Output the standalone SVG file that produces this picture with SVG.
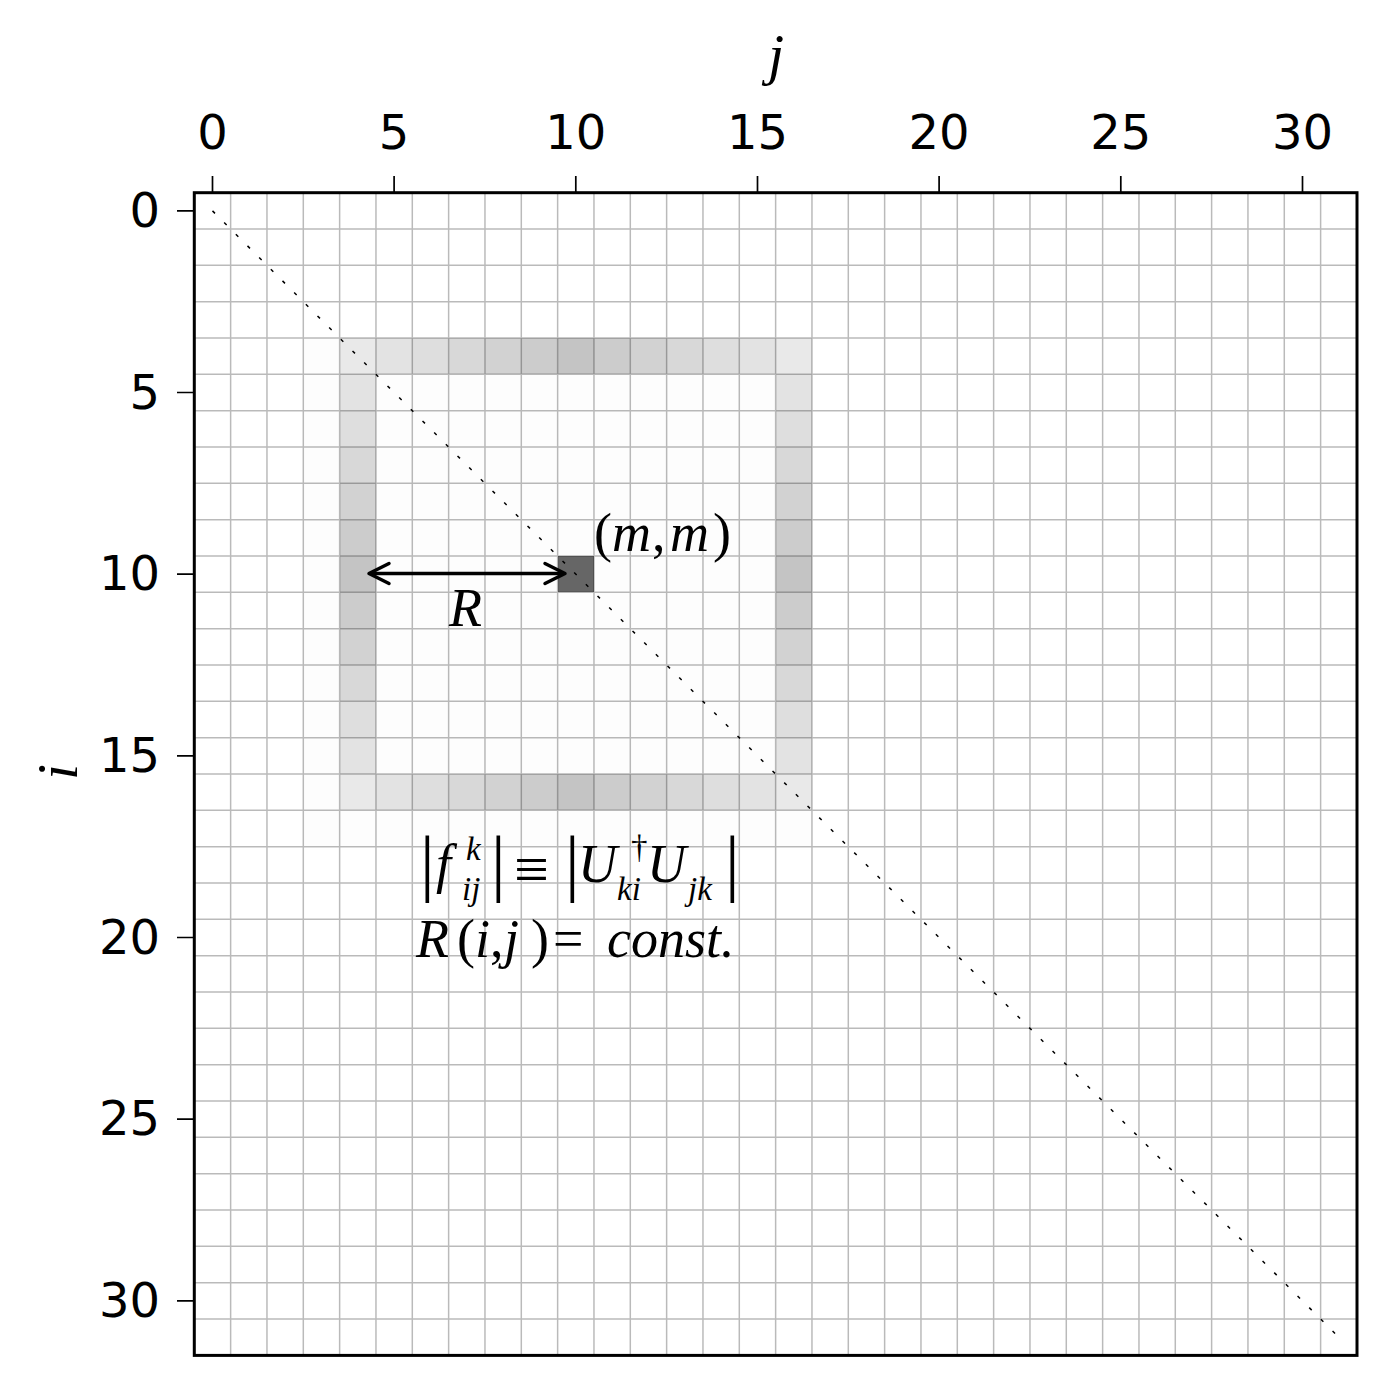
<svg xmlns="http://www.w3.org/2000/svg" width="1387" height="1385" viewBox="0 0 1387 1385">
<style>
.tk{font-family:"DejaVu Sans",sans-serif;font-size:48px;fill:#000}
.tt{text-anchor:middle}
.tl{text-anchor:end}
.mt{font-family:"Liberation Serif","DejaVu Serif",serif;font-size:54px;fill:#000}
.i{font-style:italic}
.s{font-size:33px}
.bar{font-size:73px;font-style:normal}
</style>
<rect width="1387" height="1385" fill="#fff"/>
<g id="matrix" transform="translate(194.3,192.7) scale(36.333)" shape-rendering="crispEdges">
<rect x="3" y="4" width="14" height="14" fill="#fdfdfd"/>
<g id="ring-top">
<rect x="4" y="4" width="1" height="1" fill="#e9e9e9"/><rect x="5" y="4" width="1" height="1" fill="#e3e3e3"/><rect x="6" y="4" width="1" height="1" fill="#dedede"/><rect x="7" y="4" width="1" height="1" fill="#d8d8d8"/><rect x="8" y="4" width="1" height="1" fill="#d2d2d2"/><rect x="9" y="4" width="1" height="1" fill="#cccccc"/><rect x="10" y="4" width="1" height="1" fill="#c4c4c4"/><rect x="11" y="4" width="1" height="1" fill="#cccccc"/><rect x="12" y="4" width="1" height="1" fill="#d2d2d2"/><rect x="13" y="4" width="1" height="1" fill="#d8d8d8"/><rect x="14" y="4" width="1" height="1" fill="#dedede"/><rect x="15" y="4" width="1" height="1" fill="#e3e3e3"/><rect x="16" y="4" width="1" height="1" fill="#e9e9e9"/>
</g>
<g id="ring-bottom">
<rect x="4" y="16" width="1" height="1" fill="#e9e9e9"/><rect x="5" y="16" width="1" height="1" fill="#e3e3e3"/><rect x="6" y="16" width="1" height="1" fill="#dedede"/><rect x="7" y="16" width="1" height="1" fill="#d8d8d8"/><rect x="8" y="16" width="1" height="1" fill="#d2d2d2"/><rect x="9" y="16" width="1" height="1" fill="#cccccc"/><rect x="10" y="16" width="1" height="1" fill="#c4c4c4"/><rect x="11" y="16" width="1" height="1" fill="#cccccc"/><rect x="12" y="16" width="1" height="1" fill="#d2d2d2"/><rect x="13" y="16" width="1" height="1" fill="#d8d8d8"/><rect x="14" y="16" width="1" height="1" fill="#dedede"/><rect x="15" y="16" width="1" height="1" fill="#e3e3e3"/><rect x="16" y="16" width="1" height="1" fill="#e9e9e9"/>
</g>
<g id="ring-left">
<rect x="4" y="5" width="1" height="1" fill="#e3e3e3"/><rect x="4" y="6" width="1" height="1" fill="#dedede"/><rect x="4" y="7" width="1" height="1" fill="#d8d8d8"/><rect x="4" y="8" width="1" height="1" fill="#d2d2d2"/><rect x="4" y="9" width="1" height="1" fill="#cccccc"/><rect x="4" y="10" width="1" height="1" fill="#c4c4c4"/><rect x="4" y="11" width="1" height="1" fill="#cccccc"/><rect x="4" y="12" width="1" height="1" fill="#d2d2d2"/><rect x="4" y="13" width="1" height="1" fill="#d8d8d8"/><rect x="4" y="14" width="1" height="1" fill="#dedede"/><rect x="4" y="15" width="1" height="1" fill="#e3e3e3"/>
</g>
<g id="ring-right">
<rect x="16" y="5" width="1" height="1" fill="#e3e3e3"/><rect x="16" y="6" width="1" height="1" fill="#dedede"/><rect x="16" y="7" width="1" height="1" fill="#d8d8d8"/><rect x="16" y="8" width="1" height="1" fill="#d2d2d2"/><rect x="16" y="9" width="1" height="1" fill="#cccccc"/><rect x="16" y="10" width="1" height="1" fill="#c4c4c4"/><rect x="16" y="11" width="1" height="1" fill="#cccccc"/><rect x="16" y="12" width="1" height="1" fill="#d2d2d2"/><rect x="16" y="13" width="1" height="1" fill="#d8d8d8"/><rect x="16" y="14" width="1" height="1" fill="#dedede"/><rect x="16" y="15" width="1" height="1" fill="#e3e3e3"/>
</g>
<rect id="center-cell" x="10" y="10" width="1" height="1" fill="#666666"/>
<path id="grid" fill="none" stroke="#000" stroke-opacity="0.27" stroke-width="1.5" vector-effect="non-scaling-stroke" shape-rendering="auto" d="M1 0V32M2 0V32M3 0V32M4 0V32M5 0V32M6 0V32M7 0V32M8 0V32M9 0V32M10 0V32M11 0V32M12 0V32M13 0V32M14 0V32M15 0V32M16 0V32M17 0V32M18 0V32M19 0V32M20 0V32M21 0V32M22 0V32M23 0V32M24 0V32M25 0V32M26 0V32M27 0V32M28 0V32M29 0V32M30 0V32M31 0V32M0 1H32M0 2H32M0 3H32M0 4H32M0 5H32M0 6H32M0 7H32M0 8H32M0 9H32M0 10H32M0 11H32M0 12H32M0 13H32M0 14H32M0 15H32M0 16H32M0 17H32M0 18H32M0 19H32M0 20H32M0 21H32M0 22H32M0 23H32M0 24H32M0 25H32M0 26H32M0 27H32M0 28H32M0 29H32M0 30H32M0 31H32"/>
</g>
<g id="connectors" fill="none" stroke="#000">
<line id="diagonal" x1="212.5" y1="210.9" x2="1338.8" y2="1337.2" stroke-width="1.5" stroke-dasharray="3.5 13"/>
<g id="arrow-R" stroke-width="3.5" stroke-linecap="round" stroke-linejoin="round">
<line x1="371" y1="573.5" x2="563" y2="573.5"/>
<polyline points="389,563.5 369,573.5 389,583.5"/>
<polyline points="545,563.5 565,573.5 545,583.5"/>
</g>
</g>
<g id="axes-frame">
<rect x="194.3" y="192.7" width="1162.7" height="1162.7" fill="none" stroke="#000" stroke-width="3"/>
<path stroke="#000" stroke-width="1.7" d="M212.5 176V192.7M394.1 176V192.7M575.8 176V192.7M757.5 176V192.7M939.1 176V192.7M1120.8 176V192.7M1302.5 176V192.7M177 210.9H194.3M177 392.5H194.3M177 574.2H194.3M177 755.9H194.3M177 937.5H194.3M177 1119.2H194.3M177 1300.9H194.3"/>
</g>
<g id="x-ticklabels" class="tk tt">
<text x="212.5" y="149">0</text><text x="394.1" y="149">5</text><text x="575.8" y="149">10</text><text x="757.5" y="149">15</text><text x="939.1" y="149">20</text><text x="1120.8" y="149">25</text><text x="1302.5" y="149">30</text>
</g>
<g id="y-ticklabels" class="tk tl">
<text x="160" y="227">0</text><text x="160" y="408.5">5</text><text x="160" y="590">10</text><text x="160" y="772">15</text><text x="160" y="953.5">20</text><text x="160" y="1135">25</text><text x="160" y="1317">30</text>
</g>
<g id="axis-labels">
<text class="mt i" x="776" y="74" text-anchor="middle" style="font-size:58px">j</text>
<text class="mt i" transform="translate(77,772) rotate(-90)" text-anchor="middle" style="font-size:58px">i</text>
</g>
<g id="label-mm">
<text class="mt" y="551"><tspan x="594">(</tspan><tspan class="i" x="612">m</tspan><tspan x="652">,</tspan><tspan class="i" x="670">m</tspan><tspan x="713">)</tspan></text>
</g>
<g id="label-R">
<text class="mt i" x="449" y="626">R</text>
</g>
<g id="formula">
<text class="mt"><tspan class="bar" x="420" y="887">|</tspan><tspan class="i" x="436" y="882">f</tspan><tspan class="i s" x="466" y="860">k</tspan><tspan class="i s" x="462" y="900">ij</tspan><tspan class="bar" x="491" y="887">|</tspan><tspan x="514" y="890" style="font-size:62px">≡</tspan><tspan class="bar" x="565" y="887">|</tspan><tspan class="i" x="578" y="882">U</tspan><tspan class="s" x="631" y="858">†</tspan><tspan class="i s" x="617" y="900">ki</tspan><tspan class="i" x="647" y="882">U</tspan><tspan class="i s" x="688" y="900">jk</tspan><tspan class="bar" x="725" y="887">|</tspan></text>
<text class="mt" y="957"><tspan class="i" x="416">R</tspan><tspan x="457">(</tspan><tspan class="i" x="475">i</tspan><tspan x="490">,</tspan><tspan class="i" x="504">j</tspan><tspan x="531">)</tspan><tspan x="553">=</tspan><tspan class="i" x="607">const.</tspan></text>
</g>
</svg>
